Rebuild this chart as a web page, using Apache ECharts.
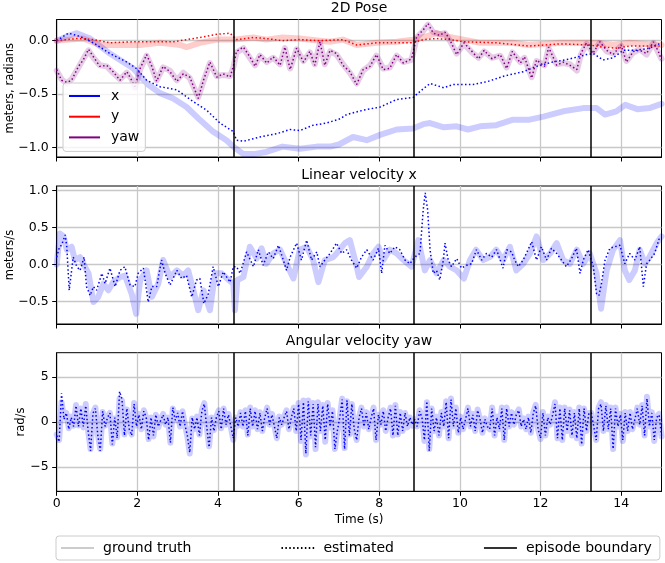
<!DOCTYPE html>
<html><head><meta charset="utf-8">
<script src="https://cdn.jsdelivr.net/npm/echarts@6/dist/echarts.min.js"></script>
<style>html,body{margin:0;padding:0;background:#fff}#c{width:665px;height:563px}</style>
</head><body><div id="c"></div>
<script>
// ---------- data ----------
const panelTitles = ['2D Pose', 'Linear velocity x', 'Angular velocity yaw'];
const yNames = ['meters, radians', 'meters/s', 'rad/s'];
const xTicks = [0, 2, 4, 6, 8, 10, 12, 14];
const yTicksPose = [-1, -0.5, 0];
const yTicksLin = [-0.5, 0, 0.5, 1];
const yTicksAng = [-5, 0, 5];
const boundaries = [4.375, 8.85, 13.24];

const xGT = [[0,0],[0.25,0.04],[0.5,0.07],[0.83,0.02],[1.32,-0.12],[1.9,-0.26],[2.23,-0.40],[2.56,-0.49],[2.89,-0.54],[3.22,-0.62],[3.55,-0.74],[3.88,-0.85],[4.21,-0.93],[4.38,-0.99],[4.63,-1.06],[4.88,-1.06],[5.2,-1.04],[5.6,-0.99],[6.03,-1.01],[6.45,-0.99],[6.78,-0.99],[7.0,-0.97],[7.35,-0.90],[7.69,-0.93],[8.02,-0.88],[8.43,-0.83],[8.84,-0.82],[9.09,-0.78],[9.26,-0.77],[9.6,-0.81],[9.92,-0.80],[10.2,-0.83],[10.5,-0.80],[10.9,-0.79],[11.3,-0.74],[11.7,-0.74],[12.07,-0.71],[12.56,-0.66],[13.06,-0.63],[13.39,-0.63],[13.6,-0.69],[13.88,-0.66],[14.1,-0.60],[14.4,-0.64],[14.7,-0.63],[15,-0.59]];
const xEst = [[0,0],[0.29,0.07],[0.58,0.04],[0.91,-0.02],[1.32,-0.12],[1.74,-0.20],[1.98,-0.26],[2.23,-0.37],[2.56,-0.43],[2.98,-0.46],[3.39,-0.57],[3.72,-0.65],[4.05,-0.77],[4.38,-0.85],[4.46,-0.93],[4.63,-0.94],[5.04,-0.90],[5.45,-0.87],[5.79,-0.83],[6.03,-0.84],[6.36,-0.79],[6.69,-0.77],[7.03,-0.73],[7.19,-0.69],[7.6,-0.65],[8.02,-0.62],[8.43,-0.55],[8.84,-0.53],[9.09,-0.45],[9.26,-0.40],[9.6,-0.44],[9.83,-0.41],[10.33,-0.41],[10.7,-0.38],[11.1,-0.33],[11.57,-0.29],[11.9,-0.24],[12.3,-0.20],[12.73,-0.17],[13.14,-0.13],[13.31,-0.12],[13.55,-0.18],[13.8,-0.16],[14.05,-0.09],[14.38,-0.09],[14.7,-0.07],[15,-0.02]];
const yGT = [[0,0],[0.3,0.01],[0.66,0.02],[1.07,-0.04],[1.57,-0.04],[2.07,-0.04],[2.56,-0.02],[3.06,-0.04],[3.22,-0.06],[3.55,-0.02],[3.97,0.01],[4.38,0.01],[4.88,0.03],[5.2,0.01],[5.6,0.03],[6.03,0.02],[6.53,0],[6.78,-0.01],[7.1,0.01],[7.44,-0.04],[7.93,-0.02],[8.43,-0.01],[8.84,0.01],[9.17,0.04],[9.42,0.07],[9.67,0.04],[10.1,0.01],[10.5,-0.02],[10.9,-0.02],[11.3,-0.02],[11.7,-0.04],[12.1,-0.03],[12.5,-0.02],[13.06,-0.02],[13.4,-0.02],[13.8,-0.04],[14.2,-0.02],[14.6,-0.03],[15,-0.04]];
const yEst = [[0,0],[0.5,0.02],[0.91,0.01],[1.32,-0.02],[1.9,-0.01],[2.4,-0.01],[2.9,-0.01],[3.22,0.01],[3.55,0.03],[3.97,0.06],[4.3,0.07],[4.46,0.01],[4.88,0.03],[5.2,0.02],[5.6,0],[6.03,0.01],[6.53,0],[7.1,0.01],[7.44,-0.04],[7.93,-0.02],[8.43,-0.02],[8.84,-0.02],[9.09,0.01],[9.42,0.02],[9.75,0.01],[10.1,-0.01],[10.9,-0.02],[11.7,-0.05],[12.1,-0.04],[12.5,-0.03],[13.2,-0.04],[13.55,-0.06],[13.9,-0.07],[14.2,-0.05],[14.6,-0.05],[15,-0.05]];
const yawGT = [[0,-0.28],[0.12,-0.36],[0.25,-0.40],[0.37,-0.36],[0.54,-0.25],[0.66,-0.17],[0.79,-0.09],[0.91,-0.16],[1.07,-0.23],[1.24,-0.24],[1.4,-0.30],[1.57,-0.36],[1.74,-0.30],[1.86,-0.36],[1.94,-0.44],[2.07,-0.27],[2.23,-0.14],[2.36,-0.25],[2.48,-0.37],[2.64,-0.25],[2.81,-0.28],[2.98,-0.37],[3.14,-0.30],[3.3,-0.35],[3.51,-0.53],[3.64,-0.38],[3.8,-0.21],[3.97,-0.33],[4.13,-0.32],[4.3,-0.33],[4.38,-0.25],[4.46,-0.11],[4.63,-0.07],[4.79,-0.16],[4.92,-0.23],[5.04,-0.14],[5.21,-0.20],[5.37,-0.16],[5.54,-0.22],[5.66,-0.07],[5.79,-0.26],[5.95,-0.08],[6.12,-0.19],[6.28,-0.11],[6.4,-0.22],[6.53,-0.02],[6.65,-0.22],[6.78,-0.10],[6.94,-0.13],[7.1,-0.22],[7.27,-0.30],[7.44,-0.40],[7.6,-0.28],[7.77,-0.23],[7.93,-0.14],[8.1,-0.26],[8.26,-0.25],[8.43,-0.14],[8.6,-0.20],[8.8,-0.18],[8.93,0.03],[9.09,0.09],[9.21,0.15],[9.34,0.08],[9.5,0.06],[9.63,0.07],[9.75,0.00],[9.92,-0.12],[10.1,-0.03],[10.3,-0.11],[10.46,-0.16],[10.6,-0.10],[10.8,-0.16],[11.0,-0.14],[11.16,-0.25],[11.3,-0.11],[11.5,-0.20],[11.6,-0.16],[11.78,-0.34],[11.9,-0.19],[12.1,-0.23],[12.2,-0.07],[12.4,-0.22],[12.56,-0.21],[12.73,-0.22],[12.9,-0.28],[13.0,-0.13],[13.14,-0.03],[13.3,-0.11],[13.47,-0.02],[13.64,-0.10],[13.8,-0.12],[14.0,-0.05],[14.13,-0.19],[14.3,-0.11],[14.46,-0.08],[14.63,-0.13],[14.8,-0.02],[14.92,-0.11],[15,-0.17]];
const yawEst = [[0,-0.27],[0.12,-0.37],[0.25,-0.39],[0.37,-0.37],[0.54,-0.24],[0.66,-0.18],[0.79,-0.08],[0.91,-0.15],[1.07,-0.24],[1.24,-0.23],[1.4,-0.29],[1.57,-0.37],[1.74,-0.29],[1.86,-0.37],[1.94,-0.43],[2.07,-0.26],[2.23,-0.13],[2.36,-0.24],[2.48,-0.38],[2.64,-0.24],[2.81,-0.29],[2.98,-0.38],[3.14,-0.31],[3.3,-0.34],[3.51,-0.54],[3.64,-0.37],[3.8,-0.20],[3.97,-0.34],[4.13,-0.31],[4.3,-0.34],[4.38,-0.24],[4.46,-0.10],[4.63,-0.06],[4.79,-0.15],[4.92,-0.24],[5.04,-0.13],[5.21,-0.21],[5.37,-0.15],[5.54,-0.23],[5.66,-0.06],[5.79,-0.27],[5.95,-0.07],[6.12,-0.20],[6.28,-0.10],[6.4,-0.23],[6.53,-0.01],[6.65,-0.23],[6.78,-0.09],[6.94,-0.12],[7.1,-0.23],[7.27,-0.29],[7.44,-0.41],[7.6,-0.27],[7.77,-0.24],[7.93,-0.13],[8.1,-0.27],[8.26,-0.26],[8.43,-0.13],[8.6,-0.21],[8.8,-0.17],[8.93,0.04],[9.09,0.10],[9.21,0.16],[9.34,0.07],[9.5,0.05],[9.63,0.08],[9.75,0.01],[9.92,-0.13],[10.1,-0.02],[10.3,-0.10],[10.46,-0.17],[10.6,-0.09],[10.8,-0.17],[11.0,-0.13],[11.16,-0.26],[11.3,-0.10],[11.5,-0.21],[11.6,-0.15],[11.78,-0.35],[11.9,-0.18],[12.1,-0.24],[12.2,-0.06],[12.4,-0.23],[12.56,-0.20],[12.73,-0.23],[12.9,-0.27],[13.0,-0.12],[13.14,-0.02],[13.3,-0.12],[13.47,-0.01],[13.64,-0.09],[13.8,-0.13],[14.0,-0.04],[14.13,-0.20],[14.3,-0.10],[14.46,-0.09],[14.63,-0.12],[14.8,-0.01],[14.92,-0.10],[15,-0.18]];

const vxGT = [[0,0],[0.08,0.42],[0.17,0.38],[0.25,0.2],[0.37,0.24],[0.45,0.06],[0.58,0.10],[0.7,-0.03],[0.79,-0.12],[0.91,-0.51],[1.03,-0.44],[1.16,-0.26],[1.28,-0.35],[1.4,-0.24],[1.57,-0.17],[1.69,-0.15],[1.86,-0.40],[1.97,-0.67],[2.07,-0.21],[2.23,-0.08],[2.36,-0.44],[2.52,-0.26],[2.64,0.06],[2.81,-0.17],[2.98,-0.08],[3.14,-0.15],[3.26,-0.08],[3.39,-0.35],[3.51,-0.62],[3.64,-0.35],[3.8,-0.62],[3.93,-0.12],[4.09,-0.12],[4.26,-0.21],[4.38,-0.26],[4.42,-0.62],[4.48,-0.21],[4.63,-0.17],[4.79,0.24],[4.96,0.08],[5.08,0.22],[5.2,0.01],[5.37,0.15],[5.54,0.20],[5.7,0.01],[5.87,-0.19],[6.03,0.20],[6.2,0.24],[6.36,0.06],[6.49,-0.24],[6.65,0.06],[6.86,0.10],[6.94,0.15],[7.15,0.29],[7.27,0.33],[7.4,0.06],[7.5,-0.17],[7.69,-0.03],[7.85,0.15],[7.98,0.24],[8.1,0.06],[8.26,0.20],[8.43,0.15],[8.6,0.06],[8.8,-0.03],[8.97,0.33],[9.13,-0.08],[9.26,0.06],[9.42,-0.12],[9.6,0.06],[9.75,-0.03],[9.92,-0.08],[10.1,-0.19],[10.25,0.06],[10.4,0.20],[10.58,0.06],[10.74,0.10],[10.9,0.20],[11.07,0.06],[11.24,0.24],[11.4,-0.08],[11.57,0.01],[11.74,0.15],[11.9,0.38],[12.07,0.06],[12.24,0.15],[12.4,0.29],[12.56,0.06],[12.73,0.01],[12.9,0.20],[13.06,0.01],[13.22,0.15],[13.39,-0.12],[13.5,-0.60],[13.64,-0.08],[13.8,0.20],[13.97,0.33],[14.09,-0.08],[14.2,-0.21],[14.34,-0.08],[14.46,0.20],[14.59,0.01],[14.7,0.10],[14.88,0.29],[15,0.38]];
const vxEst = [[0,0.10],[0.07,0.24],[0.12,0.26],[0.21,0.40],[0.25,0.24],[0.31,-0.35],[0.41,0.10],[0.5,-0.03],[0.58,-0.08],[0.68,0.10],[0.74,-0.30],[0.83,-0.42],[0.91,-0.30],[0.99,-0.35],[1.12,-0.12],[1.2,-0.26],[1.32,-0.05],[1.45,-0.30],[1.57,-0.08],[1.69,-0.03],[1.82,-0.28],[1.94,-0.30],[2.02,-0.12],[2.15,-0.05],[2.27,-0.51],[2.36,-0.30],[2.48,-0.30],[2.6,0.06],[2.69,-0.12],[2.81,-0.28],[2.98,-0.08],[3.1,-0.19],[3.22,-0.15],[3.35,-0.44],[3.47,-0.21],[3.55,-0.19],[3.65,-0.53],[3.76,-0.40],[3.88,-0.03],[4.01,-0.30],[4.13,-0.10],[4.3,-0.24],[4.38,-0.03],[4.46,-0.03],[4.55,-0.12],[4.71,0.17],[4.88,-0.03],[5.0,0.20],[5.12,-0.01],[5.25,0.17],[5.37,0.08],[5.5,0.26],[5.62,0.06],[5.7,-0.08],[5.79,0.10],[5.95,0.29],[6.07,0.06],[6.2,0.33],[6.32,0.06],[6.45,0.17],[6.53,-0.03],[6.65,0.06],[6.78,0.15],[6.94,0.29],[7.07,0.15],[7.19,0.20],[7.31,0.06],[7.44,-0.05],[7.56,0.10],[7.69,0.20],[7.85,0.06],[7.98,0.22],[8.06,-0.12],[8.14,0.26],[8.26,0.15],[8.39,0.24],[8.51,0.20],[8.64,0.06],[8.76,0.01],[8.88,0.10],[9.01,0.15],[9.09,0.74],[9.14,0.97],[9.2,0.74],[9.26,0.20],[9.34,-0.12],[9.42,-0.08],[9.5,-0.21],[9.59,0.06],[9.63,0.29],[9.71,0.06],[9.79,-0.03],[9.92,0.08],[10.04,-0.05],[10.17,-0.01],[10.29,0.01],[10.41,0.20],[10.54,0.06],[10.66,0.15],[10.79,0.10],[10.91,0.20],[11.07,-0.05],[11.16,0.20],[11.28,0.17],[11.36,0.06],[11.45,-0.03],[11.57,0.06],[11.69,0.20],[11.78,0.31],[11.9,0.06],[12.02,0.24],[12.15,0.06],[12.27,0.22],[12.4,0.15],[12.52,0.06],[12.64,-0.03],[12.77,0.08],[12.89,0.22],[12.98,-0.12],[13.06,0.06],[13.18,0.20],[13.31,-0.03],[13.39,-0.40],[13.45,-0.42],[13.51,-0.26],[13.6,0.06],[13.72,0.22],[13.84,0.24],[13.97,0.26],[14.09,0.01],[14.21,0.15],[14.34,0.06],[14.46,0.24],[14.55,-0.30],[14.63,0.01],[14.71,0.06],[14.83,0.15],[14.96,0.38]];

// angular velocity, sampled every yawRateStep seconds
const yawRateStep = 0.06;
const yawRateEst = [-1.5,-2.2,3.2,0.3,1.0,-0.8,0.5,-0.5,1.8,-0.5,1.5,-0.5,1.8,-1.0,-3.2,1.0,1.5,-1.5,-3.2,1.2,-0.5,0.5,1.0,-2.5,0.5,-1.8,3.4,2.5,-1.5,1.5,-0.8,-1.5,2.0,-0.5,0.8,-0.8,1.2,0.5,-2.0,0.5,-1.5,0.8,-0.5,0.2,0.8,-0.3,0.5,-2.3,1.6,0.2,1.0,-0.5,1.2,-0.3,-1.5,-3.4,0.5,-0.8,0.5,-1.5,1.2,2.0,-0.5,-2.8,0.5,-1.0,0.5,1.2,-0.8,1.5,-0.3,0.8,-0.5,-1.8,
0.5,-0.5,1.0,-0.5,1.2,-1.5,1.5,-0.5,1.2,-0.8,1.0,-1.0,0.5,1.5,-0.3,0.8,-0.5,-1.8,0.5,-0.3,0.5,1.2,-0.8,0.5,1.5,-1.0,2.0,-2.0,2.2,-3.5,2.3,-1.5,2.0,-2.8,2.0,-1.0,1.8,-2.0,2.0,-0.5,1.2,-3.0,-1.0,0.5,2.5,-3.0,2.4,-1.5,2.0,-0.8,-2.0,0.5,1.5,-0.5,1.0,-0.8,0.5,1.5,-2.0,0.8,-0.3,1.2,-1.0,0.5,1.5,-1.5,1.8,-1.5,1.0,-1.0,1.0,-0.5,0.5,-0.3,
0.3,-0.5,1.2,0.5,-2.0,2.3,-3.2,1.5,-1.0,0.5,-1.5,1.0,-0.5,2.2,-1.8,2.5,-0.5,1.5,-1.2,0.5,-0.8,0.3,1.5,-0.5,0.8,-1.0,1.3,0.3,-1.2,0.3,-0.5,-0.8,1.5,-1.5,0.5,-0.8,1.5,-2.0,1.5,-0.5,1.0,-0.3,0.8,1.3,-0.5,0.3,-0.8,0.5,-1.2,1.0,1.8,-0.8,-1.8,1.0,-1.5,0.5,-0.3,0.8,2.0,-1.8,1.5,-2.0,1.5,-1.0,1.3,-1.5,1.0,-1.8,1.5,-2.5,1.5,-1.0,1.0,
1.0,-0.5,-2.0,1.5,2.0,-1.0,1.8,-0.8,1.5,-3.0,1.5,-0.5,0.8,-2.0,1.0,-1.0,1.0,-0.8,0.3,1.5,-0.3,1.8,-1.5,2.6,-0.5,1.0,-2.0,0.5,0.8,-1.5];
const yawRateGT = [-1.4,-2.0,2.2,0.5,1.0,-0.7,0.6,-0.4,1.9,-0.4,1.5,-0.6,2.0,-1.0,-3.0,1.0,1.6,-1.4,-3.0,1.1,-0.4,0.6,1.0,-2.4,0.4,-1.7,2.6,2.4,-1.4,1.4,-0.8,-1.4,2.1,-0.4,0.9,-0.8,1.3,0.5,-1.9,0.5,-1.6,0.8,-0.6,0.3,0.9,-0.3,0.5,-2.3,1.5,0.3,1.0,-0.5,1.2,-0.3,-1.6,-3.5,0.4,-0.8,0.6,-1.4,1.3,2.1,-0.5,-2.7,0.5,-0.9,0.6,1.3,-0.7,1.5,-0.3,0.9,-0.6,-2.0,
0.5,-0.4,1.1,-0.5,1.3,-1.4,1.6,-0.5,1.3,-0.8,1.1,-1.0,0.6,1.6,-0.3,0.9,-0.5,-1.8,0.6,-0.3,0.6,1.3,-0.8,0.6,1.6,-1.0,2.1,-2.1,2.4,-3.6,2.4,-1.6,2.1,-3.0,2.2,-1.0,1.9,-2.2,2.1,-0.6,1.3,-3.0,-1.0,0.6,2.6,-2.9,2.3,-1.4,2.0,-0.8,-2.0,0.6,1.6,-0.5,1.1,-0.8,0.6,1.6,-2.0,0.8,-0.3,1.3,-1.0,0.6,1.6,-1.5,1.9,-1.4,1.1,-1.0,1.0,-0.6,0.5,-0.4,
0.3,-0.5,1.3,0.5,-2.1,2.2,-3.0,1.5,-1.0,0.6,-1.5,1.1,-0.5,2.3,-1.8,2.6,-0.5,1.6,-1.2,0.6,-0.8,0.4,1.6,-0.5,0.9,-1.0,1.4,0.3,-1.2,0.4,-0.5,-0.8,1.6,-1.5,0.6,-0.8,1.6,-2.0,1.6,-0.5,1.1,-0.3,0.9,1.4,-0.5,0.4,-0.8,0.6,-1.2,1.1,1.9,-0.8,-1.9,1.1,-1.5,0.6,-0.3,0.9,2.2,-1.8,1.6,-2.0,1.6,-1.0,1.4,-1.5,1.1,-1.8,1.6,-2.4,1.5,-1.0,1.0,
1.0,-0.5,-2.0,1.6,2.2,-1.0,1.9,-0.8,1.6,-3.0,1.6,-0.5,0.9,-2.1,1.1,-1.0,1.1,-0.8,0.4,1.6,-0.3,1.9,-1.5,2.8,-0.5,1.1,-2.1,0.6,0.9,-1.6];

// ---------- chart ----------
const FONT = 'DejaVu Sans';
const gridBoxes = [
  {left: 56.7, width: 604.8, top: 19.5, height: 137.5},
  {left: 56.7, width: 604.8, top: 186, height: 138},
  {left: 56.7, width: 604.8, top: 352.7, height: 138.6}
];
const yRanges = [[-1.087, 0.198], [-0.807, 1.064], [-7.7, 7.7]];
const yTickSets = [yTicksPose, yTicksLin, yTicksAng];
const yFormat = [
  v => (v < 0 ? '\u2212' : '') + Math.abs(v).toFixed(1),
  v => (v < 0 ? '\u2212' : '') + Math.abs(v).toFixed(1),
  v => (v < 0 ? '\u2212' : '') + Math.abs(v)
];
const yNameGaps = [41, 41, 30];
const titleCenters = [8.3, 175, 341.7];
const gridLineStyle = {color: '#c8c8c8', width: 1.3};

const xAxes = gridBoxes.map((g, i) => ({
  type: 'value', gridIndex: i, min: 0, max: 15,
  axisLine: {show: true, onZero: false, lineStyle: {color: '#000', width: 1}},
  axisTick: {show: true, length: 4.5, lineStyle: {color: '#000', width: 1}, customValues: xTicks},
  axisLabel: {show: i === 2, customValues: xTicks, color: '#000', fontFamily: FONT, fontSize: 12.5, margin: 6},
  splitLine: {show: true, lineStyle: gridLineStyle},
  name: i === 2 ? 'Time (s)' : '', nameLocation: 'middle', nameGap: 23, nameMoveOverlap: false,
  nameTextStyle: {color: '#000', fontFamily: FONT, fontSize: 12}
}));
const yAxes = gridBoxes.map((g, i) => ({
  type: 'value', gridIndex: i, min: yRanges[i][0], max: yRanges[i][1],
  axisLine: {show: true, onZero: false, lineStyle: {color: '#000', width: 1}},
  axisTick: {show: true, length: 4.5, lineStyle: {color: '#000', width: 1}, customValues: yTickSets[i]},
  axisLabel: {customValues: yTickSets[i], formatter: yFormat[i], color: '#000', fontFamily: FONT, fontSize: 12.5, margin: 8},
  splitLine: {show: true, lineStyle: gridLineStyle},
  name: yNames[i], nameLocation: 'middle', nameGap: yNameGaps[i], nameRotate: 90, nameMoveOverlap: false,
  nameTextStyle: {color: '#000', fontFamily: FONT, fontSize: 11.5}
}));

const DOT = [1.5, 2.4];
function gt(name, data, color, gi) {
  return {name, type: 'line', xAxisIndex: gi, yAxisIndex: gi, data, symbol: 'none', z: 2,
    lineStyle: {color, width: 6, cap: 'round', join: 'round'}, itemStyle: {color}};
}
function est(name, data, color, gi) {
  return {name, type: 'line', xAxisIndex: gi, yAxisIndex: gi, data, symbol: 'none', z: 3,
    lineStyle: {color, width: 1.5, type: DOT}, itemStyle: {color}};
}
const series = [
  gt('x gt', xGT, 'rgba(0,0,255,0.2)', 0),
  gt('y gt', yGT, 'rgba(255,0,0,0.2)', 0),
  gt('yaw gt', yawGT, 'rgba(128,0,128,0.2)', 0),
  est('x', xEst, '#0000ff', 0),
  est('y', yEst, '#ff0000', 0),
  est('yaw', yawEst, '#800080', 0),
  gt('vx gt', vxGT, 'rgba(0,0,255,0.2)', 1),
  est('vx est', vxEst, '#0000ff', 1),
  gt('wyaw gt', yawRateGT.map((v, i) => [i * yawRateStep, v]), 'rgba(0,0,255,0.2)', 2),
  est('wyaw est', yawRateEst.map((v, i) => [i * yawRateStep, v]), '#0000ff', 2),
  // legend-only entries
  {name: 'ground truth', type: 'line', xAxisIndex: 2, yAxisIndex: 2, data: [], symbol: 'none',
    lineStyle: {color: '#cccccc', width: 5}, itemStyle: {color: '#cccccc'}},
  {name: 'estimated', type: 'line', xAxisIndex: 2, yAxisIndex: 2, data: [], symbol: 'none',
    lineStyle: {color: '#000', width: 1.5, type: DOT}, itemStyle: {color: '#000'}}
];
gridBoxes.forEach((g, i) => {
  series.push({
    name: 'episode boundary', type: 'line', xAxisIndex: i, yAxisIndex: i, data: [], symbol: 'none', z: 4,
    lineStyle: {color: '#333', width: 1.5}, itemStyle: {color: '#333'},
    markLine: {silent: true, symbol: ['none', 'none'], label: {show: false},
      lineStyle: {color: '#000', width: 1.5, type: 'solid'},
      data: boundaries.map(b => ({xAxis: b}))}
  });
});

const hiddenSymbol = {color: 'rgba(0,0,0,0)', borderColor: 'rgba(0,0,0,0)', borderWidth: 0, opacity: 0};
const option = {
  animation: false,
  backgroundColor: '#fff',
  textStyle: {fontFamily: FONT},
  grid: gridBoxes.map(g => Object.assign({show: true, borderColor: '#000', borderWidth: 1, backgroundColor: 'transparent',
    containLabel: false, outerBoundsMode: 'none'}, g)),
  title: panelTitles.map((t, i) => ({text: t, left: 359, textAlign: 'center', top: titleCenters[i] - 8, padding: 0,
    textStyle: {fontFamily: FONT, fontSize: 14, fontWeight: 'normal', color: '#000', lineHeight: 16}})),
  xAxis: xAxes,
  yAxis: yAxes,
  legend: [
    {data: ['x', 'y', 'yaw'], orient: 'vertical', left: 63, top: 83, itemWidth: 31, itemHeight: 14, itemGap: 6.7,
      padding: [6, 6, 7, 5], backgroundColor: 'rgba(255,255,255,0.8)', borderColor: '#cccccc', borderWidth: 1, borderRadius: 3,
      lineStyle: {type: 'solid', width: 2}, itemStyle: hiddenSymbol, selectedMode: false,
      textStyle: {fontFamily: FONT, fontSize: 14, color: '#000', padding: [0, 0, 0, 6]}},
    {data: ['ground truth', 'estimated', 'episode boundary'], orient: 'horizontal', left: 56, top: 536,
      itemWidth: 33, itemHeight: 14, itemGap: 89, padding: [5, 8, 5, 4], selectedMode: false, itemStyle: hiddenSymbol,
      backgroundColor: '#fff', borderColor: '#cccccc', borderWidth: 1, borderRadius: 3,
      textStyle: {fontFamily: FONT, fontSize: 14, color: '#000', padding: [0, 0, 0, 4]}}
  ],
  series
};
const chart = echarts.init(document.getElementById('c'), null, {renderer: 'canvas'});
chart.setOption(option);
</script></body></html>
